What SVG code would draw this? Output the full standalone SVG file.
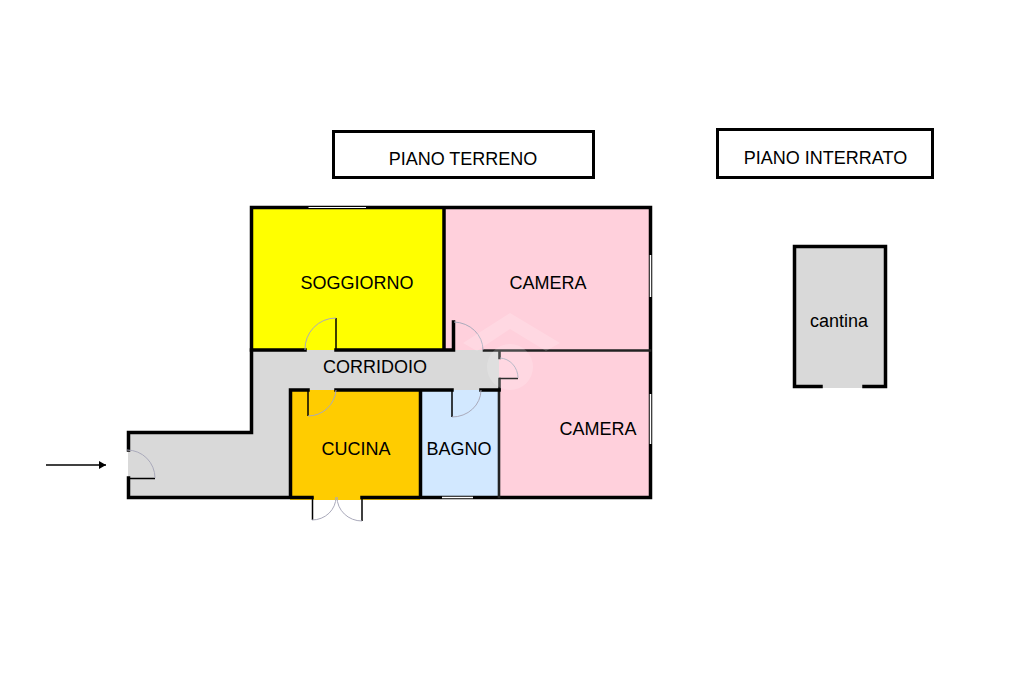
<svg xmlns="http://www.w3.org/2000/svg" width="1024" height="682" viewBox="0 0 1024 682">
<style>
text{font-family:"Liberation Sans",Arial,sans-serif;font-size:18px;fill:#000;text-anchor:middle}
.w{fill:none;stroke:#000;stroke-width:3.5;stroke-linecap:square}
.t{fill:none;stroke:#222;stroke-width:2.600;stroke-linecap:square}
.d{fill:none;stroke:#aab;stroke-width:1}
.l{fill:none;stroke:#000;stroke-width:1.500}
.b{fill:#fff;stroke:#000;stroke-width:3}
</style>
<defs><marker id="a" markerWidth="9" markerHeight="9" refX="7" refY="4" orient="auto" markerUnits="userSpaceOnUse"><path d="M0 0L7 4L0 8Z" fill="#000"/></marker></defs>
<g id="title-terreno"><rect class="b" x="333.500" y="131.500" width="260" height="46"/><text x="463" y="164.500">PIANO TERRENO</text></g>
<g id="title-interrato"><rect class="b" x="717.500" y="129.500" width="215" height="48"/><text x="825.500" y="163.500">PIANO INTERRATO</text></g>
<g id="camera-1"><rect x="445" y="208" width="205" height="142" fill="#ffd0dc"/><text x="548" y="288.500">CAMERA</text></g>
<g id="camera-2"><rect x="499" y="350" width="151" height="147" fill="#ffd0dc"/><text x="598" y="434.500">CAMERA</text></g>
<g id="soggiorno"><rect x="252" y="208" width="192" height="142" fill="#ff0"/><text x="357" y="288.500">SOGGIORNO</text></g>
<g id="corridoio"><path d="M252 350H499V390H290V497H128V432H252Z" fill="#d9d9d9"/><text x="375" y="372.500">CORRIDOIO</text></g>
<g id="cucina"><rect x="290" y="390" width="130" height="110" fill="#fc0"/><text x="356" y="454.500">CUCINA</text></g>
<g id="bagno"><rect x="420" y="390" width="79" height="108" fill="#d2e8ff"/><text x="459" y="454.500">BAGNO</text></g>
<g id="cantina"><rect x="795" y="247" width="90" height="141" fill="#d9d9d9"/><path class="w" d="M821 386.500H794.500V246.500H885.500V386.500H864" stroke-linecap="butt"/><text x="839" y="326.500">cantina</text></g>
<g id="walls">
<path class="w" d="M128.500 450V432.500H251.500V207.500H650.500V497.500H362M312 497.500H128.500V478"/>
<path class="w" d="M251.500 350H305M336 350H453.500V322M444 208V350"/>
<path class="t" d="M484 350.500H650M499.500 351V358M499.500 379V390M499 390V497"/>
<path class="w" d="M290.500 390H308M336 390H452M481 390H499M290.500 390V497M420.500 390V497"/>
<path d="M308.500 207.500H366" stroke="#fff" stroke-width="1.200" fill="none"/>
<path d="M442 497.500H473M650.500 255V297M650.500 394V444" stroke="#fff" stroke-width="1.500" fill="none"/>
</g>
<g id="doors">
<path class="l" d="M336 318V350M308 390V416M452 390V417M454 322V350M499 378.500H518M127 478.500H155M312.500 497V520M362 497V521"/>
<path class="d" d="M336 318A31 31 0 0 0 305 350M308 416A28 28 0 0 0 336 390M452 417A29 27 0 0 0 481 390M454 322A30 28 0 0 1 483 350M500 358A19 20 0 0 1 518 378M127 450A28 28 0 0 1 155 478M312 520A24 23 0 0 0 336 497M362 521A25 24 0 0 1 337 497"/>
</g>
<g id="watermark" fill="#fff" opacity=".18"><path d="M510 313L560 343L546 351L510 329L477 351L463 343Z"/><circle cx="510" cy="367" r="23"/></g>
<g id="connectors"><path d="M46 465H106" stroke="#000" stroke-width="1.500" fill="none" marker-end="url(#a)"/></g>
</svg>
